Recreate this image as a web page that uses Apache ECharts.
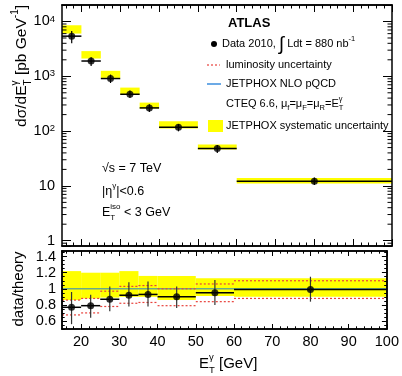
<!DOCTYPE html>
<html style="height: 100%">
<head>
<meta charset="UTF-8">
<title>ATLAS isolated photon cross section</title>
<script src="https://cdn.jsdelivr.net/npm/echarts@6/dist/echarts.min.js"></script>
</head>
<body style="height:100%; margin:0; background:#fff">
<div id="main" style="width:402px;height:376px;"></div>
<script>
// bins in E_T (GeV)
var binLo = [15, 20, 25, 30, 35, 40, 50, 60];
var binHi = [20, 25, 30, 35, 40, 50, 60, 100];
var binMid = [17.5, 22.5, 27.5, 32.5, 37.5, 45, 55, 80];

// measured cross section (pb/GeV) and total error
var xsData = [5400, 1900, 910, 470, 265, 117, 48, 12.2];
var xsDataLo = [4000, 1540, 755, 400, 222, 99, 40, 10.4];
var xsDataHi = [6700, 2220, 1075, 552, 310, 134, 56, 14.2];
// JETPHOX systematic band (pb/GeV)
var xsTheoryLo = [6020, 2110, 935, 460, 257, 112, 46, 11.1];
var xsTheoryHi = [8540, 2880, 1260, 622, 331, 151, 57, 13.9];

// data / theory
var ratio = [0.77, 0.79, 0.87, 0.92, 0.93, 0.90, 0.95, 0.99];
var ratioLo = [0.56, 0.64, 0.72, 0.78, 0.78, 0.76, 0.80, 0.84];
var ratioHi = [0.96, 0.925, 1.03, 1.08, 1.09, 1.03, 1.11, 1.15];
var bandLo = [0.86, 0.88, 0.89, 0.90, 0.90, 0.86, 0.91, 0.90];
var bandHi = [1.22, 1.20, 1.20, 1.22, 1.16, 1.16, 1.13, 1.13];
var lumiLo = [0.675, 0.70, 0.78, 0.82, 0.83, 0.79, 0.84, 0.88];
var lumiHi = [0.86, 0.88, 0.97, 1.03, 1.04, 1.00, 1.06, 1.10];

// ticks
var xMajor = [20, 30, 40, 50, 60, 70, 80, 90, 100];
var xMinor = [16, 18, 22, 24, 26, 28, 32, 34, 36, 38, 42, 44, 46, 48, 52, 54, 56, 58,
  62, 64, 66, 68, 72, 74, 76, 78, 82, 84, 86, 88, 92, 94, 96, 98];
var logMinor = [0.9, 2, 3, 4, 5, 6, 7, 8, 9, 20, 30, 40, 50, 60, 70, 80, 90,
  200, 300, 400, 500, 600, 700, 800, 900, 2000, 3000, 4000, 5000, 6000, 7000, 8000, 9000];
var rMajor = [0.6, 0.8, 1, 1.2, 1.4];
var rMinor = [0.5, 0.55, 0.65, 0.7, 0.75, 0.85, 0.9, 0.95, 1.05, 1.1, 1.15, 1.25, 1.3, 1.35, 1.45];

var FONT = '"Liberation Sans"';
var ctx = document.createElement('canvas').getContext('2d');
function tw(t, size, weight) {
  ctx.font = (weight || '') + ' ' + size + 'px ' + FONT;
  return ctx.measureText(t).width;
}
// compose a line of text pieces (sub/superscripts), stack: next piece starts at same x
function txt(parts, x, y, rot, anchor) {
  var children = [], cx = 0, stackW = 0;
  parts.forEach(function (p) {
    var w = tw(p.t, p.s, p.w);
    children.push({
      type: 'text',
      style: {
        text: p.t, x: cx, y: p.dy || 0, font: (p.w || '') + ' ' + p.s + 'px ' + FONT,
        fill: '#000', textAlign: 'left', textVerticalAlign: 'middle'
      }
    });
    if (p.stack) { stackW = Math.max(stackW, w); }
    else { cx += Math.max(w, stackW); stackW = 0; }
  });
  var shift = -cx * (anchor || 0);
  children.forEach(function (c) { c.style.x += shift; });
  return { type: 'group', x: x, y: y, rotation: rot || 0, children: children, z: 20 };
}

function xAx(grid, pos, ticks, len, labels) {
  return {
    type: 'value', gridIndex: grid, position: pos, min: 15, max: 100, z: 10,
    axisLine: { show: true, onZero: false, lineStyle: { color: '#000', width: 1.5 } },
    axisTick: { show: true, inside: true, length: len, customValues: ticks, lineStyle: { color: '#000', width: 1 } },
    axisLabel: labels ? { show: true, customValues: xMajor, fontSize: 14.5, color: '#000', margin: 5 } : { show: false },
    splitLine: { show: false }
  };
}
function rAx(pos, ticks, len, labels) {
  return {
    type: 'value', gridIndex: 1, position: pos, min: 0.5, max: 1.47, z: 10,
    axisLine: { show: true, onZero: false, lineStyle: { color: '#000', width: 1.5 } },
    axisTick: { show: true, inside: true, length: len, customValues: ticks, lineStyle: { color: '#000', width: 1 } },
    axisLabel: labels ? {
      show: true, customValues: rMajor, fontSize: 14.5, color: '#000', margin: 6,
      formatter: function (v) { return String(+(+v).toFixed(2)); }
    } : { show: false },
    splitLine: { show: false }
  };
}
function logAx(pos, labels) {
  return {
    type: 'log', logBase: 10, gridIndex: 0, position: pos, min: 0.8, max: 20000, z: 10,
    axisLine: { show: true, lineStyle: { color: '#000', width: 1.5 } },
    axisTick: { show: true, inside: true, length: 9, lineStyle: { color: '#000', width: 1 } },
    axisLabel: labels ? {
      show: true, fontSize: 14.5, color: '#000', margin: 7, showMinLabel: true, showMaxLabel: true,
      formatter: function (v) {
        var e = Math.round(Math.log(v) / Math.LN10);
        if (Math.abs(v - Math.pow(10, e)) > 1e-6 * v) return '';
        if (e === 0) return '1';
        if (e === 1) return '10';
        return '{b|10}{s|' + e + '}';
      },
      rich: { b: { fontSize: 14.5, color: '#000' }, s: { fontSize: 9.5, color: '#000', verticalAlign: 'top' } }
    } : { show: false },
    splitLine: { show: false }
  };
}

function boxItem(params, api) {
  var p0 = api.coord([api.value(0), api.value(3)]);
  var p1 = api.coord([api.value(1), api.value(2)]);
  return { type: 'rect', shape: { x: p0[0], y: p0[1], width: p1[0] - p0[0], height: p1[1] - p0[1] }, style: { fill: '#ffff00' } };
}
function errItem(color) {
  return function (params, api) {
    var a = api.coord([api.value(4), api.value(1)]);
    var b = api.coord([api.value(5), api.value(1)]);
    var c = api.coord([api.value(0), api.value(2)]);
    var d = api.coord([api.value(0), api.value(3)]);
    return {
      type: 'group', children: [
        { type: 'line', shape: { x1: a[0], y1: a[1], x2: b[0], y2: b[1] }, style: { stroke: '#000', lineWidth: 1.5 } },
        { type: 'line', shape: { x1: c[0], y1: c[1], x2: d[0], y2: d[1] }, style: { stroke: color, lineWidth: 1.2 } }
      ]
    };
  };
}

var topBoxes = [], topErr = [], topPts = [], rBoxes = [], rErr = [], rPts = [], lumi = [];
for (var i = 0; i < binMid.length; i++) {
  topBoxes.push([binLo[i], binHi[i], xsTheoryLo[i], xsTheoryHi[i]]);
  topErr.push([binMid[i], xsData[i], xsDataLo[i], xsDataHi[i], binLo[i], binHi[i]]);
  topPts.push([binMid[i], xsData[i]]);
  rBoxes.push([binLo[i], binHi[i], bandLo[i], bandHi[i]]);
  rErr.push([binMid[i], ratio[i], ratioLo[i], ratioHi[i], binLo[i], binHi[i]]);
  rPts.push([binMid[i], ratio[i]]);
  lumi.push([binLo[i], binHi[i], lumiLo[i], lumiHi[i]]);
}

var myChart = echarts.init(document.getElementById('main'));
var option = {
  animation: false,
  textStyle: { fontFamily: FONT, color: '#000' },
  grid: [
    { left: 62, right: 10, top: 5, height: 241 },
    { left: 62, right: 10, top: 251, height: 78 }
  ],
  xAxis: [
    xAx(0, 'bottom', xMajor, 7), xAx(0, 'bottom', xMinor, 3.5),
    xAx(0, 'top', xMajor, 7), xAx(0, 'top', xMinor, 3.5),
    xAx(1, 'bottom', xMajor, 5, true), xAx(1, 'bottom', xMinor, 2.7),
    xAx(1, 'top', xMajor, 5), xAx(1, 'top', xMinor, 2.7)
  ],
  yAxis: [
    logAx('left', true), logAx('right', false),
    rAx('left', rMajor, 5, true), rAx('left', rMinor, 2.7),
    rAx('right', rMajor, 5), rAx('right', rMinor, 2.7)
  ],
  series: [
    { type: 'custom', xAxisIndex: 0, yAxisIndex: 0, z: 1, data: topBoxes, encode: { x: [0, 1], y: [2, 3] }, renderItem: boxItem },
    {
      type: 'custom', xAxisIndex: 0, yAxisIndex: 0, z: 5, data: logMinor.map(function (v) { return [15, v]; }),
      encode: { x: 0, y: 1 },
      renderItem: function (params, api) {
        var l = api.coord([15, api.value(1)]), r = api.coord([100, api.value(1)]);
        return {
          type: 'group', children: [
            { type: 'line', shape: { x1: l[0], y1: l[1], x2: l[0] + 4.5, y2: l[1] }, style: { stroke: '#000', lineWidth: 1 } },
            { type: 'line', shape: { x1: r[0] - 4.5, y1: r[1], x2: r[0], y2: r[1] }, style: { stroke: '#000', lineWidth: 1 } }
          ]
        };
      }
    },
    { type: 'custom', xAxisIndex: 0, yAxisIndex: 0, z: 3, data: topErr, encode: { x: 0, y: 1 }, renderItem: errItem('#000') },
    { type: 'scatter', xAxisIndex: 0, yAxisIndex: 0, z: 4, data: topPts, symbolSize: 7, itemStyle: { color: '#000' } },

    { type: 'custom', xAxisIndex: 4, yAxisIndex: 2, z: 1, data: rBoxes, encode: { x: [0, 1], y: [2, 3] }, renderItem: boxItem },
    {
      type: 'line', xAxisIndex: 4, yAxisIndex: 2, z: 2, data: [[15, 1], [100, 1]], symbol: 'none',
      lineStyle: { color: '#6aa98a', width: 1.5 }
    },
    {
      type: 'custom', xAxisIndex: 4, yAxisIndex: 2, z: 3, data: lumi, encode: { x: [0, 1], y: [2, 3] },
      renderItem: function (params, api) {
        var a = api.coord([api.value(0), api.value(2)]), b = api.coord([api.value(1), api.value(2)]);
        var c = api.coord([api.value(0), api.value(3)]), d = api.coord([api.value(1), api.value(3)]);
        var st = { stroke: '#e8423c', lineWidth: 1.2, lineDash: [2, 2] };
        return {
          type: 'group', children: [
            { type: 'line', shape: { x1: a[0], y1: a[1], x2: b[0], y2: b[1] }, style: st },
            { type: 'line', shape: { x1: c[0], y1: c[1], x2: d[0], y2: d[1] }, style: st }
          ]
        };
      }
    },
    { type: 'custom', xAxisIndex: 4, yAxisIndex: 2, z: 4, data: rErr, encode: { x: 0, y: 1 }, renderItem: errItem('#333') },
    { type: 'scatter', xAxisIndex: 4, yAxisIndex: 2, z: 5, data: rPts, symbolSize: 7, itemStyle: { color: '#000' } }
  ],
  graphic: [
    // axis titles
    txt([{ t: 'dσ/dE', s: 15.5 }, { t: 'γ', s: 10, dy: -7, stack: true }, { t: 'T', s: 10, dy: 6 },
      { t: ' [pb GeV', s: 15.5 }, { t: '-1', s: 10, dy: -7 }, { t: ']', s: 15.5 }], 22, 5, Math.PI / 2, 1),
    txt([{ t: 'data/theory', s: 15 }], 19, 289, Math.PI / 2, 0.5),
    txt([{ t: 'E', s: 15 }, { t: 'γ', s: 9.5, dy: -7, stack: true }, { t: 'T', s: 9.5, dy: 6 }, { t: ' [GeV]', s: 15 }], 199, 364),

    // legend
    txt([{ t: 'ATLAS', s: 13, w: 'bold' }], 228, 23),
    { type: 'circle', shape: { cx: 214, cy: 44, r: 3 }, style: { fill: '#000' }, z: 20 },
    txt([{ t: 'Data 2010, ', s: 11 }, { t: '∫', s: 19, dy: 1 }, { t: ' Ldt = 880 nb', s: 11 }, { t: '-1', s: 7.5, dy: -5 }], 222, 44),
    { type: 'line', shape: { x1: 207, y1: 65, x2: 220, y2: 65 }, style: { stroke: '#e8423c', lineWidth: 1.2, lineDash: [2, 2] }, z: 20 },
    txt([{ t: 'luminosity uncertainty', s: 11 }], 226, 65),
    { type: 'line', shape: { x1: 207, y1: 84, x2: 221, y2: 84 }, style: { stroke: '#3b8ede', lineWidth: 1.5 }, z: 20 },
    txt([{ t: 'JETPHOX NLO pQCD', s: 11 }], 226, 84),
    txt([{ t: 'CTEQ 6.6, μ', s: 11 }, { t: 'f', s: 7.5, dy: 4 }, { t: '=μ', s: 11 }, { t: 'F', s: 7.5, dy: 4 },
      { t: '=μ', s: 11 }, { t: 'R', s: 7.5, dy: 4 }, { t: '=E', s: 11 }, { t: 'γ', s: 7.5, dy: -5, stack: true }, { t: 'T', s: 7.5, dy: 4 }], 226, 104),
    { type: 'rect', shape: { x: 208, y: 120, width: 15, height: 12 }, style: { fill: '#ffff00' }, z: 20 },
    txt([{ t: 'JETPHOX systematic uncertainty', s: 11 }], 226, 126),

    // cuts
    txt([{ t: '√s = 7 TeV', s: 12.5 }], 102, 169),
    txt([{ t: '|η', s: 12.5 }, { t: 'γ', s: 8, dy: -6 }, { t: '|<0.6', s: 12.5 }], 102, 192),
    txt([{ t: 'E', s: 12.5 }, { t: 'iso', s: 8, dy: -6, stack: true }, { t: 'T', s: 8, dy: 5 }, { t: ' < 3 GeV', s: 12.5 }], 102, 213)
  ]
};
myChart.setOption(option);
</script>
</body>
</html>
